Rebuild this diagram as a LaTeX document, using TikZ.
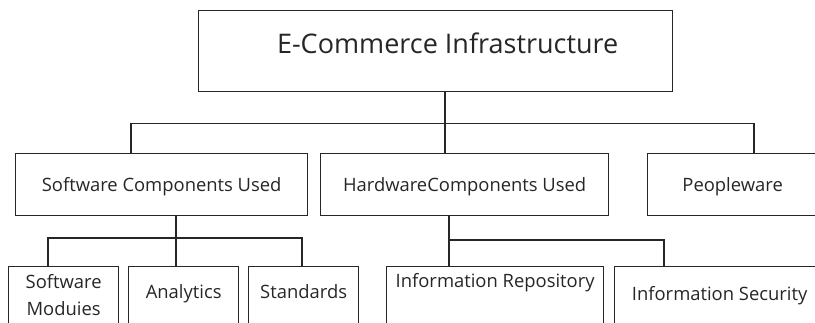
\documentclass[tikz,border=0pt]{standalone}
\usepackage{fontspec}
\setmainfont{Open Sans}
\usepackage{tikz}
\usetikzlibrary{positioning}

\begin{document}
\begin{tikzpicture}[x=1pt, y=-1pt, line width=1.3pt, draw=black!85,
  box/.style={draw=black!85, rectangle, inner sep=0pt, anchor=north west, text=black!85},
  big/.style={box, font=\fontsize{27}{32}\selectfont},
  mid/.style={box, font=\fontsize{18.4}{27}\selectfont, minimum height=62pt, text height=38pt, text depth=24pt},
  low/.style={box, font=\fontsize{18.4}{27}\selectfont, minimum height=100pt, align=center}]

\useasboundingbox (0,0) rectangle (815,323);
\clip (0,0) rectangle (815,323);

% top level
\node[big, minimum width=474pt, minimum height=81pt, text height=43pt, text depth=38pt] (top) at (198,10) {\hspace*{24pt}E-Commerce Infrastructure};

% second row
\node[mid, minimum width=292pt] (sw) at (15,153) {Software Components Used};
\node[mid, minimum width=288pt] (hw) at (320,153) {HardwareComponents Used};
\node[mid, minimum width=170pt] (pw) at (647,153) {Peopleware};

% third row (runs off the bottom)
\node[low, minimum width=110pt, text height=49pt, text depth=51pt] (sm) at (8,266) {Software\\Moduies};
\node[low, minimum width=110pt, text height=32pt, text depth=68pt] (an) at (128,266) {Analytics};
\node[low, minimum width=110pt, text height=32pt, text depth=68pt] (st) at (248,266) {Standards};
\node[low, minimum width=217pt, text height=21pt, text depth=79pt] (ir) at (386,266) {Information Repository};
\node[low, minimum width=210pt, text height=34pt, text depth=66pt] (is) at (614,266) {Information Security};

% bus points
\coordinate (tb1) at (131,123.5);
\coordinate (tb2) at (754,123.5);
\coordinate (ts) at (445,123.5);
\coordinate (sb1) at (48,238);
\coordinate (sb2) at (176,238);
\coordinate (sb3) at (302,238);
\coordinate (hb1) at (449,240);
\coordinate (hb2) at (664,240);

\draw (ts |- top.south) -- (ts |- hw.north);
\draw (tb1 |- sw.north) -- (tb1) -- (tb2) -- (tb2 |- pw.north);

\draw (sb2 |- sw.south) -- (sb2 |- an.north);
\draw (sb1 |- sm.north) -- (sb1) -- (sb3) -- (sb3 |- st.north);

\draw (hb1 |- hw.south) -- (hb1 |- ir.north);
\draw (hb1) -- (hb2) -- (hb2 |- is.north);
\end{tikzpicture}
\end{document}
